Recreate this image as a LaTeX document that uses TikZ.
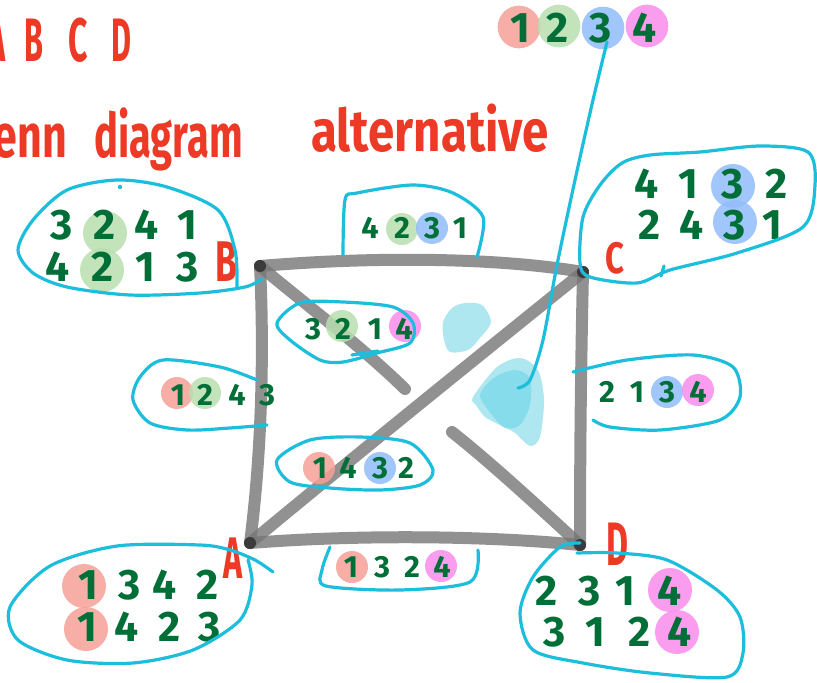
\documentclass[tikz,border=0pt]{standalone}
\usepackage{graphicx}
\usepackage{fontspec}
\setmainfont{Fira Sans}
\definecolor{cy}{RGB}{28,190,220}
\definecolor{rd}{RGB}{236,58,38}
\definecolor{gn}{RGB}{0,110,55}
\definecolor{cr}{RGB}{245,160,150}
\definecolor{cg}{RGB}{185,222,175}
\definecolor{cb}{RGB}{145,188,250}
\definecolor{cp}{RGB}{250,140,235}
\definecolor{gr}{RGB}{118,118,118}
\definecolor{blob}{RGB}{95,208,228}
\begin{document}
\begin{tikzpicture}[x=0.75pt,y=-0.75pt,
  edgeline/.style={draw=gr,draw opacity=0.8,line width=9pt,line cap=round},
  loopline/.style={draw=cy,line width=2.4pt,line cap=round,line join=round},
  bigd/.style={text=gn,font=\bfseries\fontsize{32}{32}\selectfont,inner sep=0pt},
  smd/.style={text=gn,font=\bfseries\fontsize{23}{23}\selectfont,inner sep=0pt},
  bigc/.style={circle,minimum size=33pt,inner sep=0pt,fill opacity=0.85},
  smc/.style={circle,minimum size=24pt,inner sep=0pt,fill opacity=0.85},
  topc/.style={circle,minimum size=32pt,inner sep=0pt,fill opacity=0.85},
  redt/.style={text=rd,inner sep=0pt},
  corner/.style={circle,fill=black,fill opacity=0.5,minimum size=9pt,inner sep=0pt},
  blobfill/.style={fill=blob,fill opacity=0.5}
]
\useasboundingbox (0,0) rectangle (817,682);

% title texts
\node[redt,font=\bfseries\fontsize{46}{46}\selectfont] (tA) at (-3,40) {\scalebox{0.5}[1]{A}};
\node[redt,font=\bfseries\fontsize{46}{46}\selectfont] (tB) at (34,40) {\scalebox{0.5}[1]{B}};
\node[redt,font=\bfseries\fontsize{46}{46}\selectfont] (tC) at (78,40) {\scalebox{0.55}[1]{C}};
\node[redt,font=\bfseries\fontsize{46}{46}\selectfont] (tD) at (121,40) {\scalebox{0.5}[1]{D}};
\node[redt,font=\bfseries\fontsize{46}{46}\selectfont,anchor=base east] (venn) at (67,157) {\scalebox{0.7}[1]{Venn}};
\node[redt,font=\bfseries\fontsize{46}{46}\selectfont,anchor=base west] (diag) at (94,157) {\scalebox{0.65}[1]{diagram}};
\node[redt,font=\bfseries\fontsize{44}{44}\selectfont,anchor=base west] (alt) at (311,151) {\scalebox{0.81}[1]{alternative}};

% graph corners
\coordinate (A) at (250,543);
\coordinate (B) at (260,266);
\coordinate (C) at (583,272);
\coordinate (D) at (580,545);
\coordinate (g1) at (405,389);
\coordinate (g2) at (452,432);

\draw[edgeline] (B) .. controls (380,256) and (500,258) .. (C);
\draw[edgeline] (B) .. controls (264,350) and (262,450) .. (A);
\draw[edgeline] (C) .. controls (581,360) and (580,450) .. (D);
\draw[edgeline] (A) .. controls (350,535) and (480,535) .. (D);
\draw[edgeline] (A) .. controls (350,460) and (480,355) .. (C);
\draw[edgeline] (B) .. controls (300,300) and (360,345) .. (g1);
\draw[edgeline] (g2) .. controls (490,462) and (540,508) .. (D);
\node[corner] (kA) at (A) {};
\node[corner] (kB) at (B) {};
\node[corner] (kC) at (C) {};
\node[corner] (kD) at (D) {};

% blobs
\fill[blobfill] plot[smooth cycle] coordinates {(443,322) (452,308) (465,303) (482,305) (491,322) (480,338) (468,350) (450,352) (444,340)};
\fill[blobfill] plot[smooth cycle] coordinates {(473,397) (497,367) (520,358) (538,370) (544,400) (540,437) (530,446) (515,433) (500,425) (485,417) (476,405)};
\fill[blobfill] plot[smooth cycle] coordinates {(480,395) (495,377) (515,370) (530,378) (530,405) (520,425) (505,428) (492,415)};

% circles
\node[topc,fill=cr] (q1) at (519,27) {};
\node[topc,fill=cg] (q2) at (559,26) {};
\node[topc,fill=cb] (q3) at (603,28) {};
\node[topc,fill=cp] (q4) at (647,26) {};
\node[bigc,fill=cg] (cb1) at (105,233) {};
\node[bigc,fill=cg] (cb2) at (102,270) {};
\node[bigc,fill=cb] (cc1) at (733,186) {};
\node[bigc,fill=cb] (cc2) at (735,222) {};
\node[bigc,fill=cp] (cd1) at (670,590) {};
\node[bigc,fill=cp] (cd2) at (677,632) {};
\node[bigc,fill=cr] (ca1) at (84,586) {};
\node[bigc,fill=cr] (ca2) at (86,629) {};
\node[smc,fill=cg] (ct1) at (402,229) {};
\node[smc,fill=cb] (ct2) at (432,228) {};
\node[smc,fill=cg] (cm1) at (342,326) {};
\node[smc,fill=cp] (cm2) at (405,326) {};
\node[smc,fill=cr] (cl1) at (177,393) {};
\node[smc,fill=cg] (cl2) at (205,393) {};
\node[smc,fill=cb] (cr1) at (667,392) {};
\node[smc,fill=cp] (cr2) at (698,390) {};
\node[smc,fill=cr] (cn1) at (319,468) {};
\node[smc,fill=cb] (cn2) at (380,468) {};
\node[smc,fill=cr] (co1) at (352,567) {};
\node[smc,fill=cp] (co2) at (441,566) {};

% digits: top right
\node[bigd] (p1) at (520,28) {1};
\node[bigd] (p2) at (558,28) {2};
\node[bigd] (p3) at (601,28) {3};
\node[bigd] (p4) at (645,28) {4};
% B group
\node[bigd] (b11) at (62,225) {3};
\node[bigd] (b12) at (105,225) {2};
\node[bigd] (b13) at (147,225) {4};
\node[bigd] (b14) at (187,225) {1};
\node[bigd] (b21) at (58,267) {4};
\node[bigd] (b22) at (103,267) {2};
\node[bigd] (b23) at (145,267) {1};
\node[bigd] (b24) at (188,267) {3};
% C group
\node[bigd] (c11) at (647,184) {4};
\node[bigd] (c12) at (688,184) {1};
\node[bigd] (c13) at (733,184) {3};
\node[bigd] (c14) at (777,184) {2};
\node[bigd] (c21) at (650,225) {2};
\node[bigd] (c22) at (692,225) {4};
\node[bigd] (c23) at (735,225) {3};
\node[bigd] (c24) at (772,225) {1};
% D group
\node[bigd] (d11) at (547,591) {2};
\node[bigd] (d12) at (590,591) {3};
\node[bigd] (d13) at (625,591) {1};
\node[bigd] (d14) at (670,591) {4};
\node[bigd] (d21) at (555,632) {3};
\node[bigd] (d22) at (595,632) {1};
\node[bigd] (d23) at (640,632) {2};
\node[bigd] (d24) at (680,632) {4};
% A group
\node[bigd] (a11) at (88,585) {1};
\node[bigd] (a12) at (130,585) {3};
\node[bigd] (a13) at (165,585) {4};
\node[bigd] (a14) at (208,585) {2};
\node[bigd] (a21) at (87,627) {1};
\node[bigd] (a22) at (127,627) {4};
\node[bigd] (a23) at (170,627) {2};
\node[bigd] (a24) at (210,627) {3};
% edge labels
\node[smd] (t1) at (370,228) {4};
\node[smd] (t2) at (402,228) {2};
\node[smd] (t3) at (432,228) {3};
\node[smd] (t4) at (460,228) {1};
\node[smd] (m1) at (313,329) {3};
\node[smd] (m2) at (343,329) {2};
\node[smd] (m3) at (375,329) {1};
\node[smd] (m4) at (404,329) {4};
\node[smd] (l1) at (178,395) {1};
\node[smd] (l2) at (205,395) {2};
\node[smd] (l3) at (237,395) {4};
\node[smd] (l4) at (267,395) {3};
\node[smd] (r1) at (607,392) {2};
\node[smd] (r2) at (637,392) {1};
\node[smd] (r3) at (667,392) {3};
\node[smd] (r4) at (698,392) {4};
\node[smd] (n1) at (320,468) {1};
\node[smd] (n2) at (348,468) {4};
\node[smd] (n3) at (380,468) {3};
\node[smd] (n4) at (406,468) {2};
\node[smd] (o1) at (351,567) {1};
\node[smd] (o2) at (382,567) {3};
\node[smd] (o3) at (412,567) {2};
\node[smd] (o4) at (442,567) {4};

% corner letters
\node[redt,font=\bfseries\fontsize{43}{43}\selectfont] (LB) at (226,262) {\scalebox{0.62}[1]{B}};
\node[redt,font=\bfseries\fontsize{33}{33}\selectfont] (LC) at (615,258) {\scalebox{0.75}[1]{C}};
\node[redt,font=\bfseries\fontsize{46}{46}\selectfont] (LD) at (617,544) {\scalebox{0.55}[1]{D}};
\node[redt,font=\bfseries\fontsize{44}{44}\selectfont] (LA) at (233,558) {\scalebox{0.55}[1]{A}};

% loops
\draw[loopline] plot[smooth] coordinates {(237,287) (235,250) (218,210) (167,187) (117,180) (67,190) (33,220) (18,250) (33,273) (67,287) (130,295) (200,293) (245,287) (262,279)};
\fill[cy] (120,187) circle (1.6pt);
\draw[loopline] plot[smooth cycle] coordinates {(622,163) (600,185) (583,217) (580,263) (590,277) (637,283) (670,270) (737,253) (803,227) (815,185) (808,152) (760,146) (700,152) (650,155)};
\draw[loopline] (664,266) -- (661,276);
\draw[loopline] plot[smooth] coordinates {(273,572) (255,560) (230,550) (200,545) (117,546) (50,566) (10,607) (18,640) (67,660) (133,663) (193,650) (240,620) (252,585) (248,560)};
\draw[loopline] plot[smooth] coordinates {(580,543) (560,547) (533,577) (520,613) (533,650) (583,663) (650,673) (727,677) (743,653) (740,617) (717,590) (667,560) (617,553) (577,553)};
\draw[loopline] plot[smooth] coordinates {(343,255) (345,200) (357,193) (413,185) (453,193) (483,217) (477,257)};
\draw[loopline] plot[smooth cycle] coordinates {(277,323) (300,303) (343,302) (393,307) (413,323) (410,343) (377,353) (343,362) (320,360) (290,340)};
\draw[loopline] (352,355) -- (378,351);
\draw[loopline] plot[smooth] coordinates {(257,380) (220,367) (163,360) (140,377) (133,400) (150,423) (187,430) (230,428) (267,425)};
\draw[loopline] plot[smooth] coordinates {(573,372) (627,360) (693,355) (733,367) (740,397) (720,420) (660,430) (610,427) (593,420)};
\draw[loopline] plot[smooth cycle] coordinates {(277,460) (310,440) (360,437) (410,443) (433,470) (420,485) (380,490) (330,488) (290,482)};
\draw[loopline] plot[smooth] coordinates {(330,547) (322,570) (326,586) (400,590) (470,582) (478,550)};
\draw[loopline] plot[smooth] coordinates {(607,42) (593,100) (575,180) (557,265) (543,340) (530,380) (518,388)};
\end{tikzpicture}
\end{document}
